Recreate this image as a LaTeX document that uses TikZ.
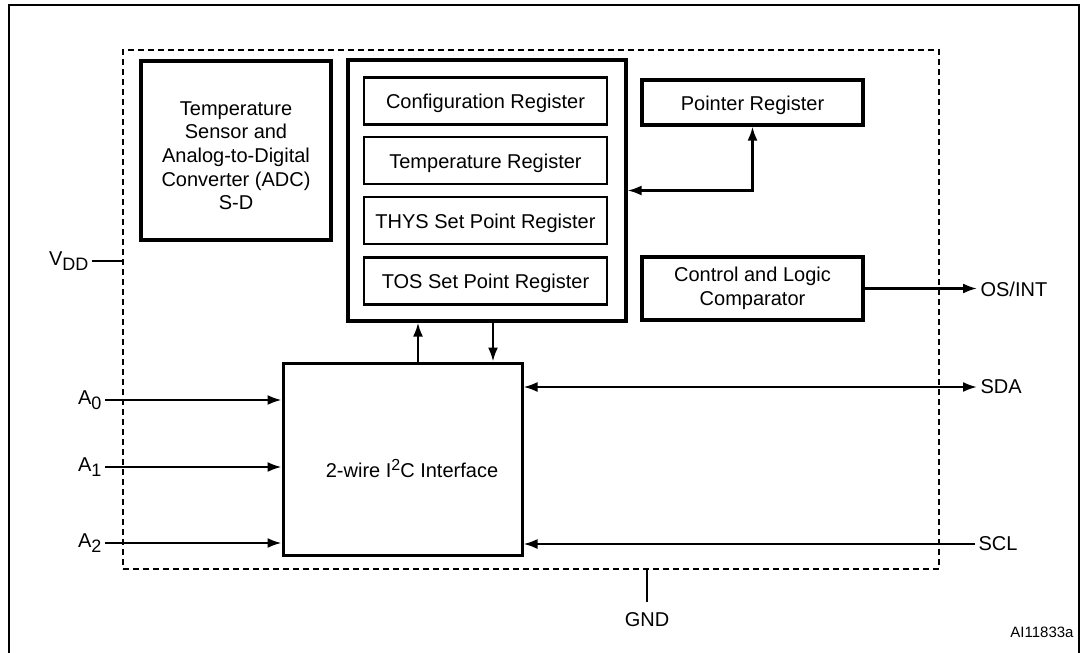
\documentclass[tikz,border=0pt]{standalone}
\usepackage{fontspec}
\setmainfont{Liberation Sans}
\usetikzlibrary{arrows.meta}
\newcommand{\pinsub}[1]{\raisebox{-5pt}{\fontsize{18}{18}\selectfont #1}}
\newcommand{\pinsup}[1]{\raisebox{7pt}{\fontsize{16}{16}\selectfont #1}}

\begin{document}
\begin{tikzpicture}[x=1pt, y=-1pt,
  every node/.style={font=\fontsize{20}{23.7}\selectfont},
  block/.style={draw, line width=3.2pt, align=center},
  regbox/.style={draw, line width=2.8pt, minimum width=243, minimum height=47,
    text height=15pt, text depth=0pt},
  wire/.style={line width=2.3pt},
  >={Latex[length=14pt,width=10pt]}]
\useasboundingbox (0,0) rectangle (1082,653);

% Frame
\draw[line width=2.6pt] (9,660) -- (9,5) -- (1079,5) -- (1079,660);

% Chip outline
\node[draw, line width=2.8pt, dash pattern=on 6pt off 4pt, inner sep=0,
  minimum width=816, minimum height=519] (chip) at (531,309.5) {};

% Blocks
\node[block, minimum width=190, minimum height=179] (sensor) at (236,150.5)
  {\rule{0pt}{24pt}Temperature\\Sensor and\\Analog-to-Digital\\Converter (ADC)\\S-D};
\node[block, minimum width=278, minimum height=261] (regs) at (487,190.5) {};
\node[regbox] (config) at (485.5,101) {Configuration Register};
\node[regbox] (tempreg) at (485.5,160.5) {Temperature Register};
\node[regbox] (thys) at (485.5,220.5) {THYS Set Point Register};
\node[regbox] (tos) at (485.5,281) {TOS Set Point Register};
\node[block, minimum width=221, minimum height=45, text height=15pt, text depth=0pt]
  (pointer) at (752.5,102.5) {Pointer Register};
\node[block, minimum width=221, minimum height=63] (ctrl) at (752.5,288.5) {Control and Logic\\Comparator};
\node[draw, line width=3pt, minimum width=239, minimum height=192] (i2c) at (402.5,459) {};
\node (i2clabel) at (412,469) {2-wire I\pinsup{2}C Interface};

% Pins
\node[anchor=east] (vdd) at (92,261) {V\pinsub{DD}};
\node[anchor=east] (a0) at (105,400) {A\pinsub{0}};
\node[anchor=east] (a1) at (105,467) {A\pinsub{1}};
\node[anchor=east] (a2) at (105,543) {A\pinsub{2}};
\node[anchor=west] (osint) at (977,289) {OS/INT};
\node[anchor=west] (sda) at (977,387) {SDA};
\node[anchor=west] (scl) at (975,544) {SCL};
\node (gnd) at (647,620) {GND};
\node[font=\fontsize{15}{18}\selectfont] (code) at (1042,632) {AI11833a};

% Connections
\draw[wire] (vdd) -- (vdd -| chip.west);
\draw[wire,->] (a0) -- (a0 -| i2c.west);
\draw[wire,->] (a1) -- (a1 -| i2c.west);
\draw[wire,->] (a2) -- (a2 -| i2c.west);
\draw[wire,->] (ctrl.east) -- (ctrl.east -| osint.west);
\draw[wire,<->] (i2c.east |- sda) -- (sda);
\draw[wire,->] (scl) -- (scl -| i2c.east);
\draw[wire] (gnd.north |- chip.south) -- ++(0,32);
\draw[wire,<->] (regs.east) -| (pointer.south);
\draw[wire,->] ([xshift=15.5]i2c.north) -- ([xshift=15.5]i2c.north |- regs.south);
\draw[wire,->] ([xshift=90.5]i2c.north |- regs.south) -- ([xshift=90.5]i2c.north);
\end{tikzpicture}
\end{document}
